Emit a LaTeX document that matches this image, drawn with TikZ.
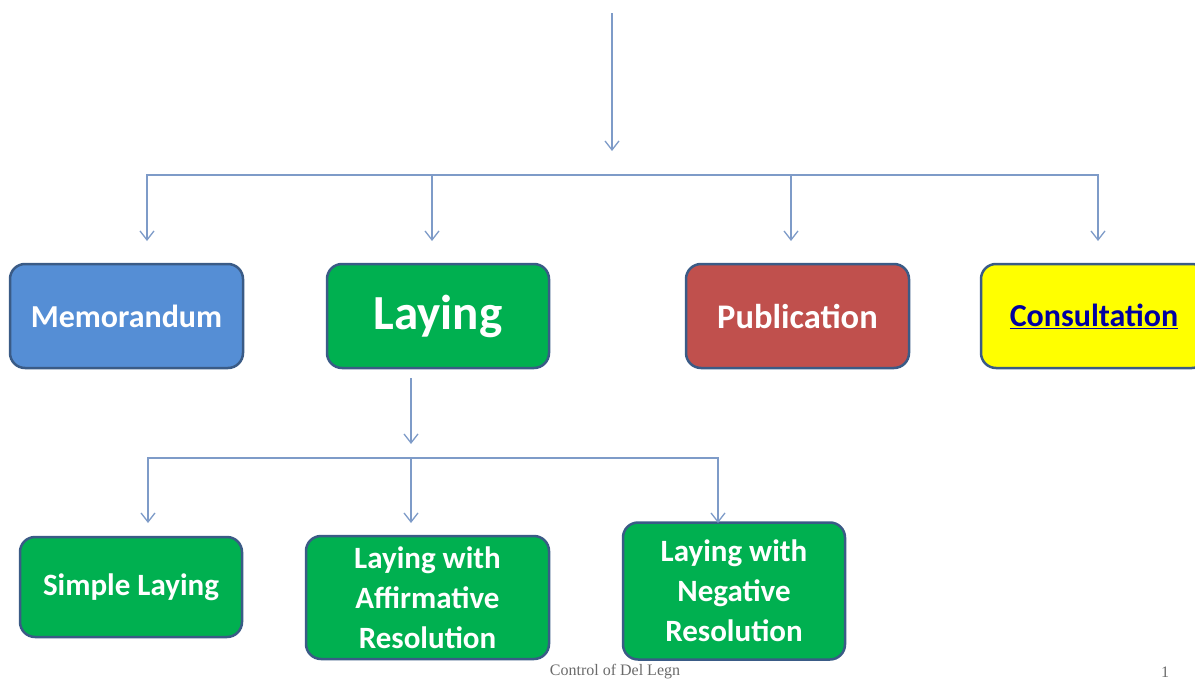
\documentclass[tikz,border=0pt]{standalone}
\usepackage{fontspec}
\setmainfont{Carlito}
\newfontfamily\footfont{Liberation Serif}
\usetikzlibrary{arrows.meta}

\definecolor{linkblue}{HTML}{7E9BC8}
\definecolor{edgeblue}{HTML}{3A5B86}
\definecolor{memofill}{HTML}{558ED5}
\definecolor{layfill}{HTML}{00B050}
\definecolor{pubfill}{HTML}{C0504D}
\definecolor{consfill}{HTML}{FFFF00}
\definecolor{consink}{HTML}{0000A0}
\definecolor{footink}{HTML}{6A6A6A}

\tikzset{
  box/.style={draw=edgeblue, line width=2.5pt, rounded corners=15pt,
    inner sep=0pt, align=center, text=white, font=\bfseries\fontsize{31}{40}\selectfont},
  toplabel/.style={font=\bfseries\fontsize{32}{40}\selectfont},
  link/.style={draw=linkblue, line width=1.4pt},
  arr/.style={link, -{Straight Barb[length=9pt,width=14pt,line width=1.3pt]}},
  foot/.style={text=footink, font=\footfont\fontsize{16}{18}\selectfont, inner sep=0pt}
}

\begin{document}
\begin{tikzpicture}[x=1pt, y=-1pt]
  \useasboundingbox (0,0) rectangle (1195,680);
  \clip (0,0) rectangle (1195,680);

  % first level of the tree
  \node[box, toplabel, fill=memofill, minimum width=233pt, minimum height=104pt] (memo) at (126.5,316) {Memorandum};
  \node[box, fill=layfill, minimum width=222pt, minimum height=104pt,
        font=\bfseries\fontsize{49}{52}\selectfont] (lay) at (438,316) {Laying};
  \node[box, fill=pubfill, minimum width=223pt, minimum height=104pt,
        font=\bfseries\fontsize{34.5}{40}\selectfont] (pub) at (797.5,316) {Publication};
  \node[box, toplabel, fill=consfill, text=consink, minimum width=226pt, minimum height=104pt] (cons) at (1094,316)
        {\underline{Consultation}};

  % kinds of laying
  \node[box, fill=layfill, minimum width=222pt, minimum height=100pt] (simple) at (131,587) {Simple Laying};
  \node[box, fill=layfill, minimum width=243pt, minimum height=123pt] (affirm) at (427.5,597.5)
        {Laying with\\Affirmative\\Resolution};
  \node[box, fill=layfill, minimum width=222pt, minimum height=137pt] (negat) at (734,591)
        {Laying with\\Negative\\Resolution};

  % footer
  \node[foot] (footer) at (615,672) {Control of Del Legn};
  \node[foot] (pageno) at (1165,672) {1};

  % connector anchors
  \coordinate (titlefoot) at (612,13);
  \coordinate (topin) at (612,151);
  \coordinate (bus) at (612,175);
  \coordinate (memo-in) at (147,241);
  \coordinate (lay-in) at (432,241);
  \coordinate (pub-in) at (791,241);
  \coordinate (cons-in) at (1098,241);
  \coordinate (lay-out) at (411,378);
  \coordinate (subin) at (411,444);
  \coordinate (subbus) at (411,458);
  \coordinate (simple-in) at (148,523);
  \coordinate (affirm-in) at (411,523);
  \coordinate (negat-in) at (718,523);

  % connectors
  \draw[arr] (titlefoot) -- (topin);
  \draw[arr] (bus) -| (memo-in);
  \draw[arr] (bus) -| (lay-in);
  \draw[arr] (bus) -| (pub-in);
  \draw[arr] (bus) -| (cons-in);

  \draw[arr] (lay-out) -- (subin);
  \draw[arr] (subbus) -| (simple-in);
  \draw[arr] (subbus) -- (affirm-in);
  \draw[arr] (subbus) -| (negat-in);
\end{tikzpicture}
\end{document}
